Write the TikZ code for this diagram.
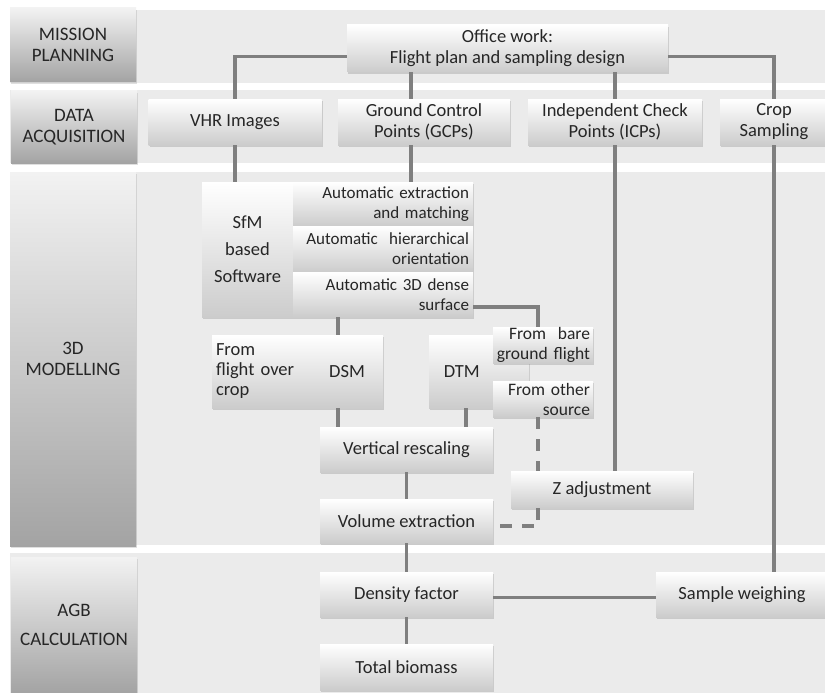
\documentclass[tikz,border=0pt]{standalone}
\usepackage{fontspec}
\setmainfont{Carlito}
\usetikzlibrary{shadows}
\definecolor{linkgray}{HTML}{7F7F7F}
\definecolor{bandgray}{HTML}{EBEBEB}
\definecolor{textgray}{HTML}{262626}

\begin{document}
\begin{tikzpicture}[x=1pt, y=-1pt,
  box/.style={rectangle, top color=white, bottom color=black!20, text=textgray,
    drop shadow={opacity=0.3, shadow xshift=1pt, shadow yshift=-2pt},
    align=center, inner sep=0pt, font=\fontsize{18.5}{21}\selectfont},
  stackbox/.style={box, align=right, text width=172pt, minimum width=180pt,
    font=\fontsize{17}{20}\selectfont},
  lanebox/.style={rectangle, top color=black!5, bottom color=black!36, text=textgray,
    drop shadow={opacity=0.25, shadow xshift=1pt, shadow yshift=-2pt},
    align=center, minimum width=126pt, font=\fontsize{19}{21}\selectfont},
  link/.style={draw=linkgray, line width=3.5pt},
  linkdash/.style={link, dash pattern=on 12pt off 10pt}
]
\useasboundingbox (0,0) rectangle (825,693);

% Bands
\fill[bandgray] (10,10) rectangle (825,83);
\fill[bandgray] (10,90) rectangle (825,163);
\fill[bandgray] (10,172) rectangle (825,545);
\fill[bandgray] (10,553) rectangle (825,693);

% Lane labels
\node[lanebox, minimum height=74pt] (planning) at (73,45) {MISSION\\PLANNING};
\node[lanebox, minimum height=72pt] (acquisition) at (74,127) {DATA\\ACQUISITION};
\node[lanebox, minimum height=374pt] (modelling) at (73,359) {3D\\MODELLING};
\node[lanebox, minimum height=136pt] (calculation) at (74,625) {AGB\\[8pt]CALCULATION};

% Mission planning and data acquisition
\node[box, minimum width=321pt, minimum height=47pt] (office) at (507.5,48.5) {Office work:\\Flight plan and sampling design};
\node[box, minimum width=173pt, minimum height=46pt] (vhr) at (235,122) {VHR Images};
\node[box, minimum width=172pt, minimum height=46pt] (gcp) at (424,122) {Ground Control\\Points (GCPs)};
\node[box, minimum width=174pt, minimum height=46pt] (icp) at (615,122) {Independent Check\\Points (ICPs)};
\node[box, minimum width=108pt, minimum height=46pt] (crop) at (774,122) {Crop\\Sampling};

% 3D modelling
\node[box, minimum width=91pt, minimum height=135pt] (sfm) at (247.5,249.5) {SfM\\[6pt]based\\[6pt]Software};
\node[stackbox, minimum height=44pt] (ext) at (383,204) {Automatic extraction\\and matching};
\node[stackbox, minimum height=46pt] (hier) at (383,249) {Automatic\ \ hierarchical\\orientation};
\node[stackbox, minimum height=45pt] (dense) at (383,294.5) {Automatic 3D dense\\surface};

\node[box, align=left, text width=91pt, minimum width=99pt, minimum height=73pt, font=\fontsize{18.5}{20}\selectfont] (crophint) at (261.5,371.5) {From\\flight over\\crop};
\node[box, minimum width=72pt, minimum height=73pt] (dsm) at (347,371.5) {DSM};
\node[box, minimum width=100pt, minimum height=73pt] (dtm) at (479,371.5) {};
\node[font=\fontsize{18.5}{21}\selectfont, text=textgray] at ([xshift=33pt]dtm.west) {DTM};
\node[box, align=right, text width=94pt, minimum width=100pt, minimum height=36pt, font=\fontsize{17.5}{20}\selectfont] (bare) at (543,345) {From\ \ bare\\ground flight};
\node[box, align=right, text width=94pt, minimum width=100pt, minimum height=36pt, font=\fontsize{17.5}{20}\selectfont] (other) at (543,399) {From other\\source};

\node[box, minimum width=173pt, minimum height=45pt] (vres) at (406.5,449.5) {Vertical rescaling};
\node[box, minimum width=182pt, minimum height=37pt] (zadj) at (602,489.5) {Z adjustment};
\node[box, minimum width=173pt, minimum height=44pt] (vol) at (406.5,521) {Volume extraction};

% AGB calculation
\node[box, minimum width=173pt, minimum height=45pt] (dens) at (406.5,594.5) {Density factor};
\node[box, minimum width=173pt, minimum height=46pt] (total) at (406.5,667) {Total biomass};
\node[box, minimum width=172pt, minimum height=45pt] (samp) at (742,594.5) {Sample weighing};

% Connectors
\coordinate (gcpline) at (411,0);
\coordinate (sfmline) at (338,0);
\draw[link] ([yshift=-8pt]office.west) -| (vhr.north);
\draw[link] ([yshift=-8pt]office.east) -| (crop.north);
\draw[link] (office.south -| gcpline) -- (gcp.north -| gcpline);
\draw[link] (office.south -| icp.north) -- (icp.north);
\draw[link] (vhr.south) -- (vhr.south |- sfm.north);
\draw[link] (gcp.south -| gcpline) -- (ext.north -| gcpline);
\draw[link] (dense.south -| sfmline) -- (dsm.north -| sfmline);
\draw[link] ([yshift=-12.5pt]dense.east) -| ([xshift=-5pt]bare.north);
\draw[linkdash] ([xshift=-5pt]other.south) -- ([xshift=-5pt]other.south |- zadj.north);
\draw[linkdash] ([xshift=-5pt]other.south |- zadj.south) |- ([yshift=-5pt]vol.east);
\draw[link] (dsm.south -| sfmline) -- (vres.north -| sfmline);
\draw[link] ([xshift=-13pt]dtm.south) -- ([xshift=-13pt]dtm.south |- vres.north);
\draw[link] (vres) -- (vol);
\draw[link] (vol) -- (dens);
\draw[link] (dens) -- (total);
\draw[link] ([yshift=-3pt]dens.east) -- ([yshift=-3pt]samp.west);
\draw[link] (icp.south) -- (icp.south |- zadj.north);
\draw[link] (crop.south) -- (crop.south |- samp.north);
\end{tikzpicture}
\end{document}
